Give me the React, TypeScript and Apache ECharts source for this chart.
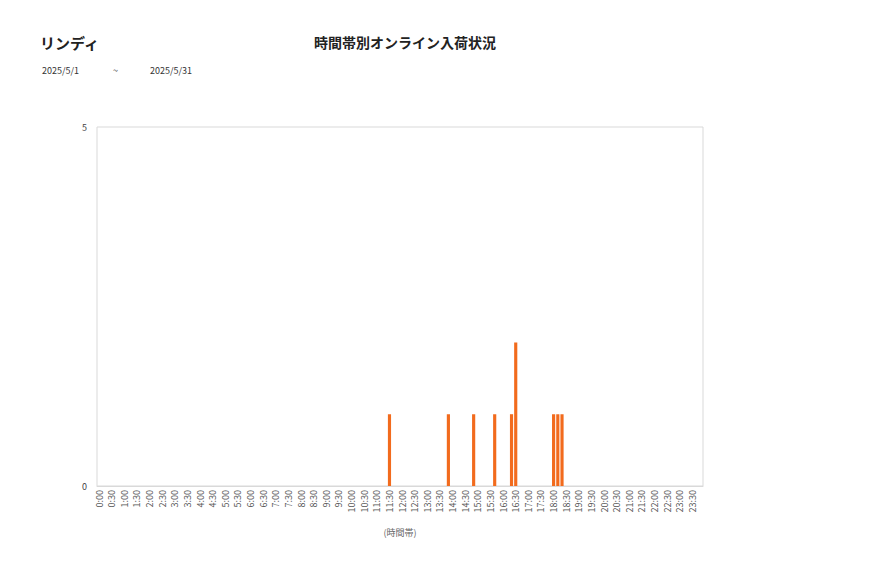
import React, { useRef, useEffect } from 'react';
import * as echarts from 'echarts';

const shopName = 'リンディ';
const chartTitle = '時間帯別オンライン入荷状況';
const dateFrom = '2025/5/1';
const dateTo = '2025/5/31';
const axisName = '(時間帯)';

// 10-minute slots, labels every 30 minutes
const slots: string[] = [];
for (let h = 0; h < 24; h++) {
  for (let m = 0; m < 60; m += 10) {
    slots.push(`${h}:${m === 0 ? '00' : m}`);
  }
}

// slot -> count (everything else is 0)
const arrivals: [string, number][] = [
  ['11:30', 1],
  ['13:50', 1],
  ['14:50', 1],
  ['15:40', 1],
  ['16:20', 1],
  ['16:30', 2],
  ['18:00', 1],
  ['18:10', 1],
  ['18:20', 1],
];

const yTicks = [0, 5];

const FONT = '"Noto Sans CJK JP", "Noto Sans", sans-serif';

const App = () => {
  const chartRef = useRef(null);

  useEffect(() => {
    document.body.style.margin = '0';
    const myChart = echarts.init(chartRef.current, null, { renderer: 'svg' });

    const counts = slots.map((s) => {
      const hit = arrivals.find((a) => a[0] === s);
      return hit ? hit[1] : 0;
    });

    const small = { fontSize: 9, fontWeight: 'normal', color: '#333', fontFamily: FONT };

    const option = {
      animation: false,
      textStyle: { fontFamily: FONT },
      title: [
        {
          text: shopName,
          left: 40,
          top: 35,
          padding: 0,
          textStyle: { fontSize: 15, fontWeight: 'bold', color: '#222', fontFamily: FONT },
        },
        {
          text: chartTitle,
          left: 405,
          top: 35,
          padding: 0,
          textAlign: 'center',
          textStyle: { fontSize: 14, fontWeight: 'bold', color: '#222', fontFamily: FONT },
        },
        { text: dateFrom, left: 42, top: 66, padding: 0, textStyle: small },
        { text: '~', left: 113, top: 66, padding: 0, textStyle: small },
        { text: dateTo, left: 150, top: 66, padding: 0, textStyle: small },
      ],
      grid: {
        left: 97,
        right: 174,
        top: 127,
        bottom: 92,
        show: true,
        borderColor: '#d9d9d9',
        borderWidth: 1,
      },
      xAxis: {
        type: 'category',
        data: slots,
        name: axisName,
        nameLocation: 'middle',
        nameGap: 42,
        nameTextStyle: { fontSize: 9, color: '#666', fontFamily: FONT },
        axisLine: { lineStyle: { color: '#d9d9d9' } },
        axisTick: { show: false },
        axisLabel: {
          interval: 2,
          rotate: 90,
          fontSize: 9,
          color: '#555',
          margin: 4,
          fontFamily: FONT,
        },
      },
      yAxis: {
        type: 'value',
        min: yTicks[0],
        max: yTicks[yTicks.length - 1],
        interval: 5,
        axisLine: { show: false },
        axisTick: { show: false },
        splitLine: { show: false },
        axisLabel: { fontSize: 9, color: '#444', margin: 10, fontFamily: FONT },
      },
      series: [
        {
          type: 'bar',
          data: counts,
          barCategoryGap: '25%',
          itemStyle: { color: '#F26B1D' },
        },
      ],
    };

    myChart.setOption(option);

    return () => {
      myChart.dispose();
    };
  }, []);

  return <div ref={chartRef} style={{ width: '877px', height: '578px' }} />;
};

export default App;
